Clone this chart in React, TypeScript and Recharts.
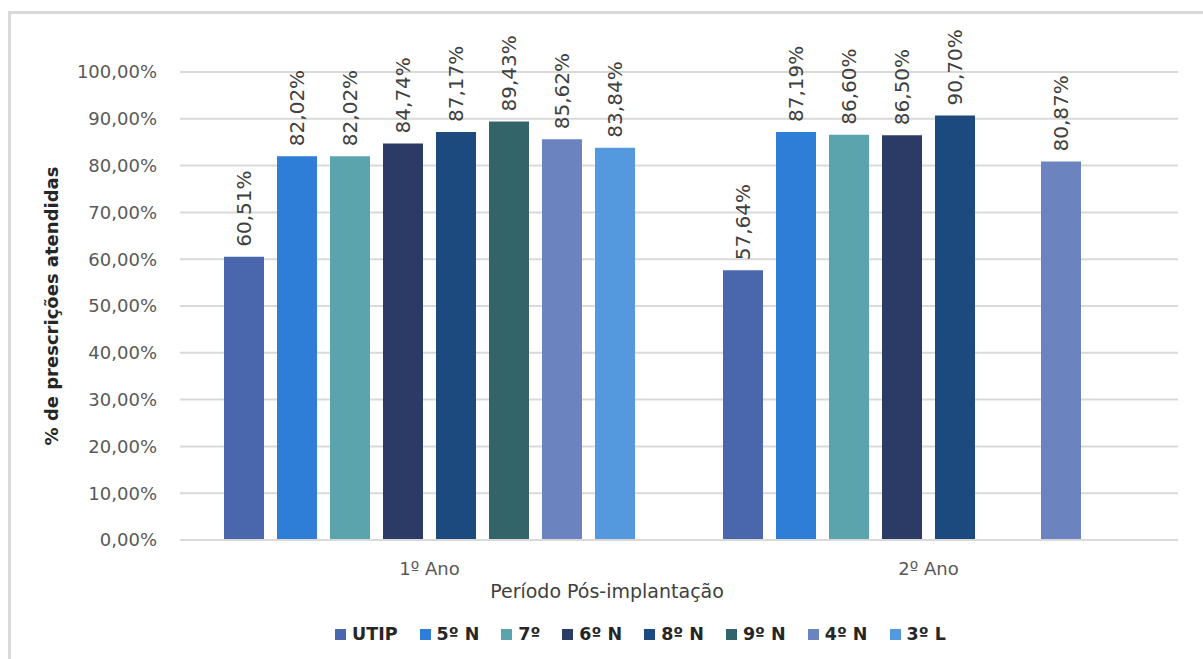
import React from "react";
import { BarChart, Bar, XAxis, YAxis, CartesianGrid, LabelList } from "recharts";

const categories = ["1º Ano", "2º Ano"];
const seriesNames = ["UTIP", "5º N", "7º", "6º N", "8º N", "9º N", "4º N", "3º L"];
const seriesColors = ["#4a66ac", "#2e7dd6", "#5ba3ad", "#2c3b65", "#1c4a7e", "#33646a", "#6b84c0", "#5499dd"];
const utip = [60.51, 57.64];
const n5 = [82.02, 87.19];
const s7 = [82.02, 86.6];
const n6 = [84.74, 86.5];
const n8 = [87.17, 90.7];
const n9 = [89.43, null];
const n4 = [85.62, 80.87];
const l3 = [83.84, null];
const yTicks = [0, 10, 20, 30, 40, 50, 60, 70, 80, 90, 100];

const seriesValues = [utip, n5, s7, n6, n8, n9, n4, l3];
const data = categories.map((c, i) => {
  const row: any = { name: c };
  seriesNames.forEach((s, k) => {
    row["s" + k] = seriesValues[k][i];
  });
  return row;
});

const FONT = "'DejaVu Sans', sans-serif";
const fmt = (v: number) => v.toFixed(2).replace(".", ",") + "%";

const BarLabel = (props: any) => {
  const { x, y, width, value } = props;
  if (value === null || value === undefined) return null;
  const cx = x + width / 2;
  const ty = y - 10;
  return (
    <text
      x={cx}
      y={ty}
      transform={`rotate(-90 ${cx} ${ty})`}
      textAnchor="start"
      dominantBaseline="central"
      fontFamily={FONT}
      fontSize={20}
      fill="#404040"
    >
      {fmt(value)}
    </text>
  );
};

const XTick = (props: any) => {
  const { x, y, payload } = props;
  return (
    <text x={x} y={y} dy={27} textAnchor="middle" fontFamily={FONT} fontSize={18} fill="#595959">
      {payload.value}
    </text>
  );
};

const YTitle = (props: any) => {
  const { viewBox } = props;
  const cx = 51;
  const cy = viewBox.y + viewBox.height / 2;
  return (
    <text
      x={cx}
      y={cy}
      transform={`rotate(-90 ${cx} ${cy})`}
      textAnchor="middle"
      dominantBaseline="central"
      fontFamily={FONT}
      fontWeight="bold"
      fontSize={18}
      fill="#262626"
    >
      % de prescrições atendidas
    </text>
  );
};

const XTitle = (props: any) => {
  const { viewBox } = props;
  const cx = 607;
  const cy = viewBox.y + 58;
  return (
    <text x={cx} y={cy} textAnchor="middle" fontFamily={FONT} fontSize={19} fill="#404040">
      Período Pós-implantação
    </text>
  );
};

export default function App() {
  return (
    <div
      style={{
        position: "absolute",
        left: 0,
        top: 0,
        width: 1203,
        height: 659,
        overflow: "hidden",
        background: "#ffffff",
      }}
    >
      <div
        style={{
          position: "absolute",
          left: 8,
          top: 11,
          width: 1260,
          height: 700,
          border: "3px solid #d9d9d9",
          boxSizing: "border-box",
        }}
      />
      <div style={{ position: "absolute", left: 0, top: 0 }}>
        <BarChart
          width={1203}
          height={659}
          data={data}
          margin={{ top: 72, right: 25, left: 100, bottom: 59 }}
          barSize={40}
          barGap={13}
        >
          <CartesianGrid vertical={false} stroke="#d9d9d9" strokeWidth={2} />
          <XAxis
            dataKey="name"
            height={60}
            axisLine={{ stroke: "#d9d9d9", strokeWidth: 2 }}
            tickLine={false}
            tick={<XTick />}
            label={<XTitle />}
          />
          <YAxis
            width={80}
            domain={[0, 100]}
            ticks={yTicks}
            interval={0}
            axisLine={false}
            tickLine={false}
            tickMargin={17}
            tickFormatter={(v: number) => fmt(v)}
            tick={{ fontFamily: FONT, fontSize: 18, fill: "#595959" }}
            label={<YTitle />}
          />
          {seriesNames.map((s, k) => (
            <Bar key={s} dataKey={"s" + k} name={s} fill={seriesColors[k]} isAnimationActive={false}>
              <LabelList dataKey={"s" + k} content={<BarLabel />} />
            </Bar>
          ))}
        </BarChart>
      </div>
      <div
        style={{
          position: "absolute",
          left: 335,
          top: 624,
          display: "flex",
          alignItems: "center",
          gap: 22,
          fontFamily: FONT,
          fontWeight: "bold",
          fontSize: 17.5,
          color: "#262626",
          whiteSpace: "nowrap",
        }}
      >
        {seriesNames.map((s, k) => (
          <div key={s} style={{ display: "flex", alignItems: "center", gap: 6 }}>
            <div style={{ width: 11, height: 11, background: seriesColors[k] }} />
            <span>{s}</span>
          </div>
        ))}
      </div>
    </div>
  );
}
